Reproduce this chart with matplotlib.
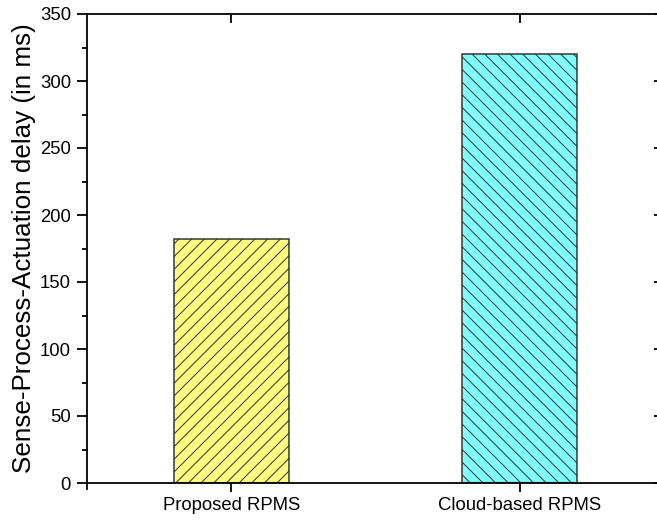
import numpy as np
import matplotlib
matplotlib.use("Agg")
import matplotlib.pyplot as plt
from matplotlib.ticker import MultipleLocator

# data
categories = ["Proposed RPMS", "Cloud-based RPMS"]
delays_ms = [182, 320]
bar_colors = ["#FFFF80", "#80FFFF"]
bar_hatches = ["//", "\\\\"]

DPI = 76  # hatch spacing scales with dpi, so draw at 76 dpi
PX = 72.0 / DPI  # points per pixel


def px(v):
    return v * PX


plt.rcParams["font.family"] = ["Liberation Sans", "DejaVu Sans"]
plt.rcParams["hatch.linewidth"] = px(1.0)

fig = plt.figure(figsize=(657 / DPI, 521 / DPI), dpi=DPI)
ax = fig.add_axes([87 / 657, 38 / 521, 577 / 657, 469 / 521])

x = np.arange(1, len(categories) + 1)
for xi, val, col, h in zip(x, delays_ms, bar_colors, bar_hatches):
    ax.bar(xi, val, width=0.4, color=col, edgecolor="#333333",
           linewidth=px(1.5), hatch=h, zorder=2)

ax.set_xlim(0.5, 2.5)
ax.set_ylim(0, 350)
ax.set_xticks(x)
ax.set_xticklabels(categories)
ax.yaxis.set_major_locator(MultipleLocator(50))
ax.yaxis.set_minor_locator(MultipleLocator(25))

for s in ax.spines.values():
    s.set_linewidth(px(1.8))

ax.tick_params(axis="y", which="major", direction="out", length=px(10),
               width=px(1.8), labelsize=px(18.5), pad=px(6))
ax.tick_params(axis="y", which="minor", direction="out", length=px(5),
               width=px(1.8))
ax.tick_params(axis="x", which="major", direction="out", length=px(9),
               width=px(1.8), labelsize=px(18.5), pad=px(5))
# mirrored ticks on top / right point inward
ax.tick_params(top=True, right=True, which="both")
ax.tick_params(axis="x", which="major", top=True)
for t in ax.xaxis.get_major_ticks():
    t.tick2line.set_marker(matplotlib.lines.TICKDOWN)
for t in ax.yaxis.get_major_ticks():
    t.tick2line.set_marker(matplotlib.lines.TICKLEFT)
for t in ax.yaxis.get_minor_ticks():
    t.tick2line.set_marker(matplotlib.lines.TICKLEFT)

# left axis line runs a little below the x axis
ax.plot([0, 0], [0, -0.012], transform=ax.transAxes, color="black",
        lw=px(1.8), clip_on=False)

ax.set_ylabel("Sense-Process-Actuation delay (in ms)", fontsize=px(26),
              labelpad=px(4))

fig.savefig("out.png", dpi=DPI)
